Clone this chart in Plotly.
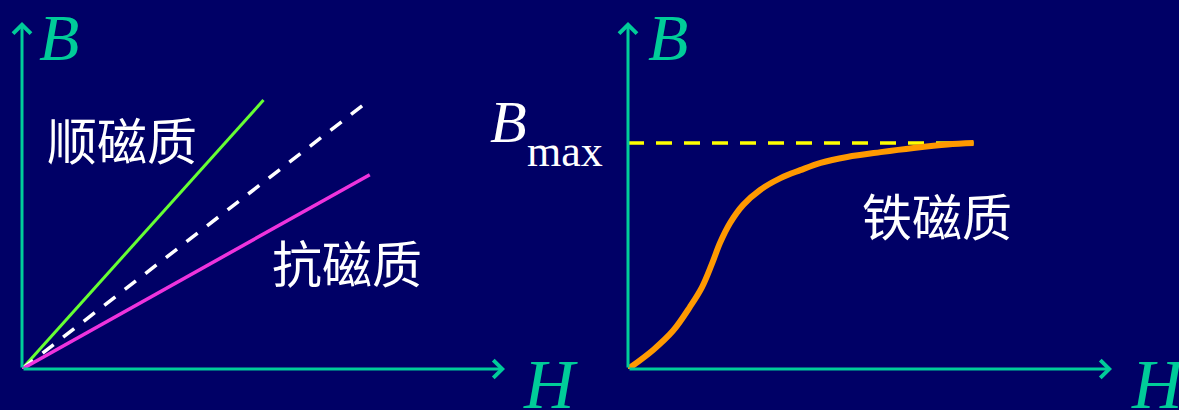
import plotly.graph_objects as go

# ---- data (H, B in arbitrary units) ----
para_H = [0, 5.0]
para_B = [0, 7.75]
vac_H = [0, 7.15]
vac_B = [0, 7.7]
dia_H = [0, 7.2]
dia_B = [0, 5.6]

ferro_H = [0, 0.52, 0.93, 1.28, 1.53, 1.74, 1.90, 2.11, 2.38, 2.73, 3.15, 3.56, 3.98, 4.53, 5.22, 5.90, 6.60, 7.14]
ferro_B = [0, 0.55, 1.10, 1.79, 2.36, 3.05, 3.63, 4.21, 4.73, 5.16, 5.50, 5.73, 5.94, 6.11, 6.25, 6.37, 6.47, 6.51]
B_max = 6.51

labels = {"para": "顺磁质", "dia": "抗磁质", "ferro": "铁磁质"}

W, Hh = 1179, 410
BG = "#000066"
AX = "#00CC99"

def px(x):
    return x / W

def py(y):
    return 1 - y / Hh

fig = go.Figure()

# left panel traces
fig.add_trace(go.Scatter(x=para_H, y=para_B, mode="lines", line=dict(color="#66FF33", width=3), xaxis="x", yaxis="y"))
fig.add_trace(go.Scatter(x=vac_H, y=vac_B, mode="lines", line=dict(color="#FFFFFF", width=3.5, dash="14px,12px"), xaxis="x", yaxis="y"))
fig.add_trace(go.Scatter(x=dia_H, y=dia_B, mode="lines", line=dict(color="#EE33DD", width=3.5), xaxis="x", yaxis="y"))

# right panel traces
fig.add_trace(go.Scatter(x=[0, ferro_H[-1]], y=[B_max, B_max], mode="lines", line=dict(color="#FFFF00", width=3.5, dash="16px,12px"), xaxis="x2", yaxis="y2"))
fig.add_trace(go.Scatter(x=ferro_H, y=ferro_B, mode="lines", line=dict(color="#FF9900", width=6, shape="spline", smoothing=1.0), xaxis="x2", yaxis="y2"))

ax_common = dict(range=[0, 10], showgrid=False, zeroline=False, showticklabels=False, ticks="", showline=False, fixedrange=True)
y0, y1 = py(369), py(22)
fig.update_layout(
    width=W, height=Hh,
    margin=dict(l=0, r=0, t=0, b=0),
    paper_bgcolor=BG, plot_bgcolor=BG,
    showlegend=False,
    xaxis=dict(domain=[px(22), px(505)], anchor="y", **ax_common),
    yaxis=dict(domain=[y0, y1], anchor="x", **ax_common),
    xaxis2=dict(domain=[px(628), px(1112)], anchor="y2", **ax_common),
    yaxis2=dict(domain=[y0, y1], anchor="x2", **ax_common),
)

ann = []
# axis arrows
for xr, yr in (("x", "y"), ("x2", "y2")):
    ann.append(dict(x=10, y=0, ax=0, ay=0, xref=xr, yref=yr, axref=xr, ayref=yr, text="",
                    showarrow=True, arrowhead=4, arrowwidth=3, arrowsize=1.15, arrowcolor=AX, standoff=0, startstandoff=0))
    ann.append(dict(x=0, y=10, ax=0, ay=0, xref=xr, yref=yr, axref=xr, ayref=yr, text="",
                    showarrow=True, arrowhead=4, arrowwidth=3, arrowsize=1.15, arrowcolor=AX, standoff=0, startstandoff=0))

serif = "Liberation Serif"
cjk = "Noto Sans CJK SC"
# axis letters
for (cx, cy, t, s) in ((59, 38, "B", 66), (550, 384, "H", 70), (668, 38, "B", 66), (1158, 384, "H", 70)):
    ann.append(dict(x=px(cx), y=py(cy), xref="paper", yref="paper", text=f"<i>{t}</i>", showarrow=False,
                    xanchor="center", yanchor="middle", font=dict(family=serif, size=s, color=AX)))

# Bmax
ann.append(dict(x=px(508), y=py(122), xref="paper", yref="paper", text="<i>B</i>", showarrow=False,
                xanchor="center", yanchor="middle", font=dict(family=serif, size=60, color="#FFFFFF")))
ann.append(dict(x=px(565), y=py(151), xref="paper", yref="paper", text="max", showarrow=False,
                xanchor="center", yanchor="middle", font=dict(family=serif, size=44, color="#FFFFFF")))

# material labels
ann.append(dict(x=2.07, y=6.66, xref="x", yref="y", text=labels["para"], showarrow=False,
                xanchor="center", yanchor="middle", font=dict(family=cjk, size=50, color="#FFFFFF")))
ann.append(dict(x=6.73, y=3.1, xref="x", yref="y", text=labels["dia"], showarrow=False,
                xanchor="center", yanchor="middle", font=dict(family=cjk, size=50, color="#FFFFFF")))
ann.append(dict(x=6.38, y=4.47, xref="x2", yref="y2", text=labels["ferro"], showarrow=False,
                xanchor="center", yanchor="middle", font=dict(family=cjk, size=50, color="#FFFFFF")))

fig.update_layout(annotations=ann)
fig.write_html("out.html", config={"displayModeBar": False},
               post_script="document.body.style.margin='0';document.body.style.background='#000066';document.body.style.overflow='hidden';")
